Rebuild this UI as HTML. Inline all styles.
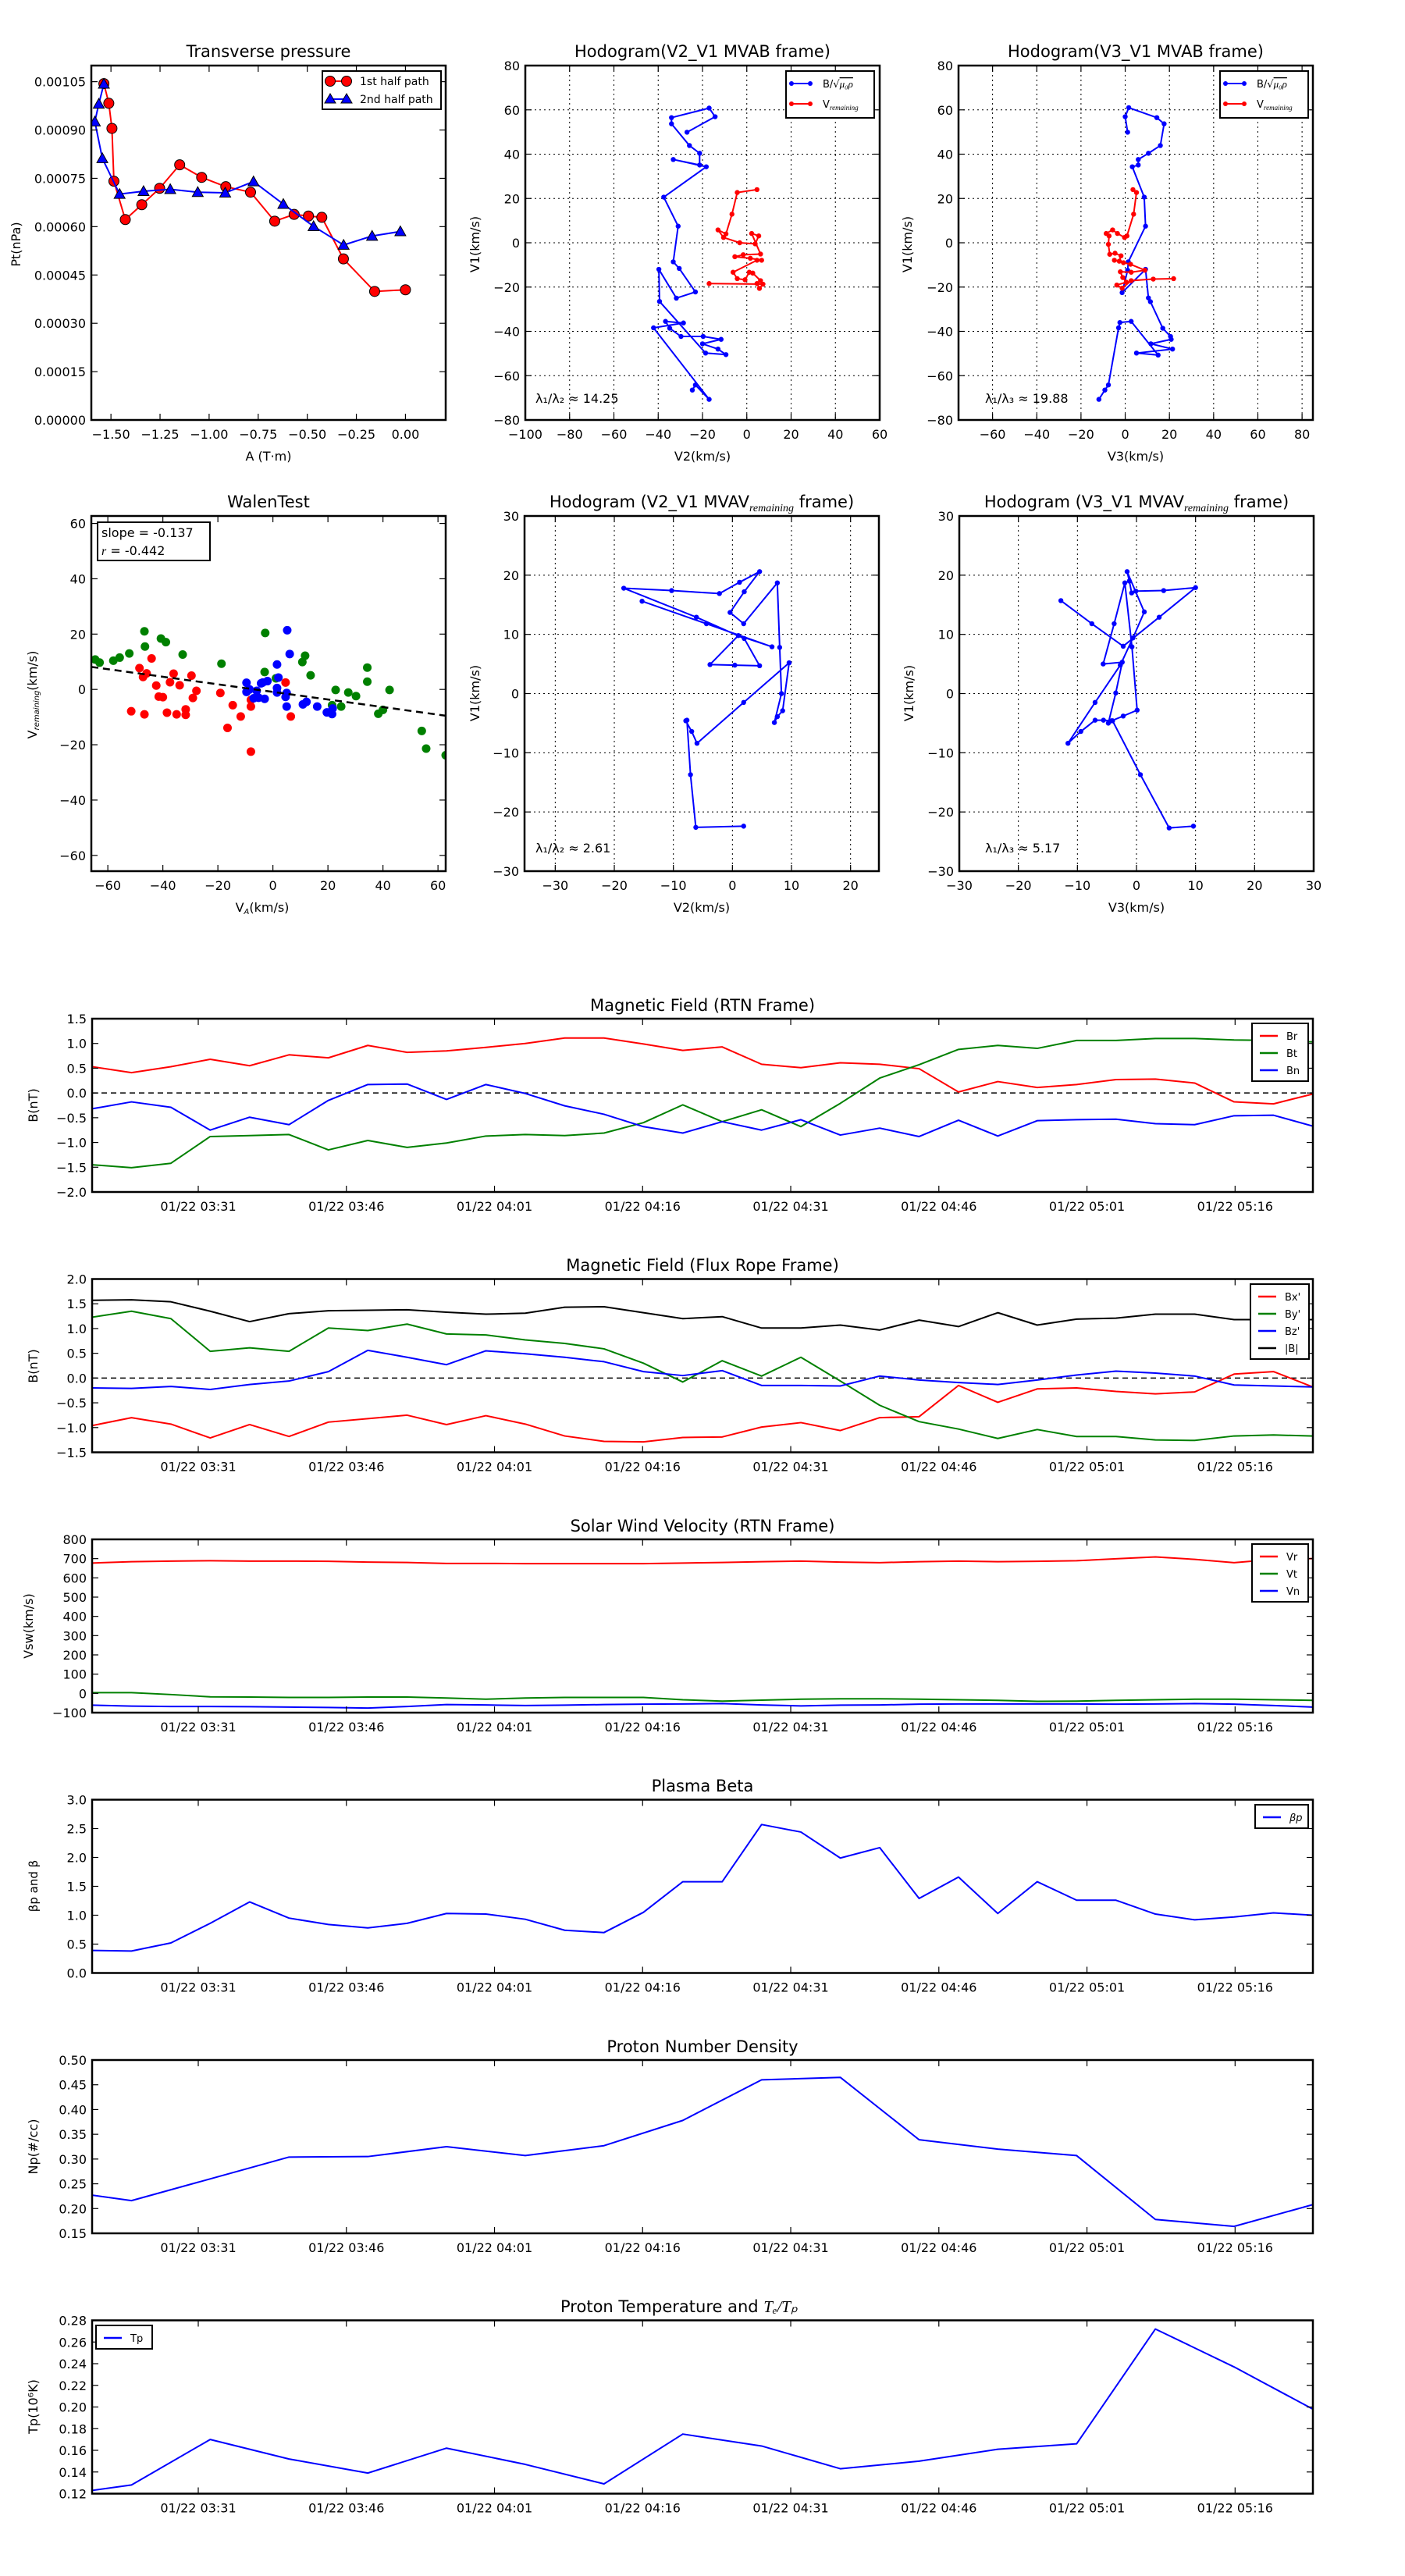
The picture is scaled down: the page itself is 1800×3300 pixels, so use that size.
<!DOCTYPE html>
<html><head><meta charset="utf-8"><title>Flux rope analysis</title>
<style>
html,body{margin:0;padding:0;background:#fff;}
svg{display:block;font-family:"DejaVu Sans","Liberation Sans",sans-serif;}
</style></head>
<body>
<svg id="fig" xmlns="http://www.w3.org/2000/svg" width="1800" height="3300" viewBox="0 0 1800 3300"></svg>
<script>
// ---------- DATA ----------
const ptRedA=[-1.536,-1.511,-1.495,-1.485,-1.427,-1.343,-1.252,-1.150,-1.038,-0.915,-0.789,-0.666,-0.567,-0.494,-0.426,-0.316,-0.157,0.0];
const ptRedP=[0.001044,0.000983,0.000905,0.000741,0.000622,0.000668,0.000719,0.000792,0.000753,0.000724,0.000707,0.000617,0.000638,0.000633,0.000629,0.000500,0.000399,0.000404];
const ptBlueA=[-1.536,-1.562,-1.582,-1.544,-1.456,-1.334,-1.198,-1.058,-0.918,-0.774,-0.622,-0.468,-0.315,-0.170,-0.026];
const ptBlueP=[0.001043,0.000981,0.000926,0.000812,0.000701,0.000710,0.000716,0.000707,0.000705,0.000740,0.000670,0.000601,0.000543,0.000571,0.000585];
const h1BlueX=[-24.6,-23.2,-17,-42.1,-28.6,-36.7,-34.8,-29.7,-19.7,-11.6,-20,-13,-9.4,-18.6,-39.4,-39.7,-31.8,-23.2,-30.5,-33.2,-31,-37.5,-18.3,-33.2,-21.3,-21.3,-25.9,-34,-34,-17,-14.3,-27];
const h1BlueY=[-66.5,-64.2,-70.7,-38.4,-36.2,-35.5,-38.6,-42.3,-42.3,-43.6,-45.6,-48,-50.5,-49.8,-26.5,-12,-25,-22.2,-11.6,-8.6,7.5,20.6,34.3,37.6,35.1,40.4,43.9,53.7,56.5,60.8,56.9,49.9];
const h1RedX=[4.6,-4.3,-6.7,-9.4,-13,-10.5,-3.2,3.8,5.4,2.2,6.2,-1.6,-5.4,1.6,6.7,4.6,-6.2,-4.3,-0.8,1.1,2.7,6.2,4.6,5.7,7.3,-17];
const h1RedY=[24,22.7,12.9,4,5.8,2.4,0,-0.5,3.1,4.2,-5.1,-5.4,-6.3,-7,-7.9,-7.9,-13.3,-16.2,-16.7,-13.3,-13.7,-17.1,-18.4,-20.6,-18.7,-18.4];
const h2BlueX=[1.1,0,1.6,14.3,17.6,15.9,10.5,5.9,5.9,3.2,8.6,9.2,1.4,1.1,-1.4,9.2,10.5,11.4,17,20.5,20.8,11.6,21.4,5.1,14.9,2.7,-2.4,-3,-7.6,-9.2,-11.9];
const h2BlueY=[49.9,56.9,61,56.5,53.7,43.9,40.4,37.6,35.1,34.3,20.6,7.5,-8.6,-12.4,-22.5,-12,-24.9,-26.6,-38.6,-42.3,-43.6,-45.6,-48,-49.8,-50.7,-35.5,-36,-38.4,-64.2,-66.5,-70.7];
const h2RedX=[3.5,5.1,3.8,0.8,-0.3,-3.5,-5.7,-8.6,-7.3,-7.6,-7,-4.6,-1.9,-2.7,-4.9,-0.8,2.4,8.9,2.7,-2.2,-1.1,0.5,-3.8,-1.4,2.7,12.7,21.9];
const h2RedY=[24,22.7,12.9,3.1,2.4,4.2,5.8,4.2,3.1,-0.7,-5.2,-4.7,-5.9,-8.3,-7.9,-9,-9.7,-12.4,-13.3,-13.1,-15.7,-17.8,-19.1,-20.5,-17.1,-16.4,-16.2];
const wGreenX=[-64.6,-63,-58,-55.7,-52.2,-46.7,-46.5,-40.7,-38.9,-32.8,-18.7,-2.8,-3,1.1,10.7,11.7,13.7,22.8,27.4,30.2,21.5,24.8,34.3,34.3,42.4,38.3,40,54.1,55.7,62.8];
const wGreenY=[10.8,9.7,10.4,11.5,13,21,15.5,18.4,17.1,12.6,9.3,20.4,6.3,4,9.9,12.2,5.1,-0.2,-1.1,-2.4,-5.7,-6.2,7.9,2.8,-0.2,-8.8,-7.4,-15,-21.4,-23.8];
const wRedX=[-48.5,-44.1,-47.2,-45.9,-42.4,-41.5,-40,-37.4,-36.1,-33.9,-38.5,-35,-31.7,-31.7,-29.6,-29.1,-27.8,-51.5,-46.7,-19.1,-14.6,-16.5,-11.7,-8,-8,-8,4.6,6.5];
const wRedY=[7.7,11.2,4.5,5.8,1.4,-2.6,-2.8,2.6,5.7,1.5,-8.4,-9,-7.2,-9.2,5,-3.1,-0.5,-7.9,-9,-1.3,-5.7,-13.9,-9.8,-6.2,-3.8,-22.5,2.5,-9.8];
const wBlueX=[5.2,6.1,1.5,2,-2,-3.7,-9.6,-8.5,-5.9,-9.6,-5.2,-3,1.5,1.5,5,4.6,5,10.9,12.2,16.1,19.6,21.5,21.7,-7,-4.3];
const wBlueY=[21.4,12.8,9,4.3,3,2.5,2.4,0,-0.5,-0.9,-3,-3.4,0.5,-1.1,-1.3,-2.7,-6.2,-5.4,-4.5,-6.2,-8.3,-8.9,-6.9,-3.2,2.2];
const walenSlope=-0.137;
const walenIntercept=-0.9;
const h3X=[1.9,-6.2,-7.1,-7.7,-7.9,-6.9,-6.0,1.9,9.6,8.5,7.6,7.1,8.3,8.0,7.6,1.9,-0.4,2.0,4.6,1.2,-2.2,-10.3,-18.4,-6.1,2.0,4.6,0.4,-3.8,1.0,6.7,-4.4,-15.3];
const h3Y=[-22.4,-22.6,-13.7,-4.5,-4.6,-6.4,-8.4,-1.5,5.2,-2.9,-3.9,-4.9,0,7.8,18.7,11.8,13.7,17.2,20.6,18.8,16.9,17.4,17.8,12.9,9.3,4.7,4.8,4.9,9.8,7.9,11.8,15.6];
const h4X=[9.64,5.53,0.66,-4.05,-4.77,-3.51,-2.41,-5.64,-3.78,-1.97,-0.77,0.11,-2.25,-4.22,-5.59,-7.01,-9.42,-11.6,-7.01,-2.74,-0.6,1.32,-1.59,-1.21,-0.82,-0.11,4.6,10.0,3.84,-2.25,-7.56,-12.8];
const h4Y=[-22.4,-22.7,-13.7,-4.6,-5.0,0.1,5.3,5.0,11.8,18.7,7.9,-2.8,-3.8,-4.6,-4.5,-4.5,-6.4,-8.4,-1.5,4.8,9.4,13.8,20.6,19.0,17.0,17.3,17.4,17.9,12.9,8.0,11.8,15.7];
const tMin=[0,3.99,7.98,11.96,15.95,19.94,23.93,27.92,31.9,35.89,39.88,43.87,47.86,51.84,55.83,59.82,63.81,67.8,71.78,75.77,79.76,83.75,87.74,91.72,95.71,99.7,103.69,107.68,111.66,115.65,119.64,123.63];
const timeTickMin=[10.75,25.75,40.75,55.75,70.75,85.75,100.75,115.75];
const timeTickLabels=["01/22 03:31","01/22 03:46","01/22 04:01","01/22 04:16","01/22 04:31","01/22 04:46","01/22 05:01","01/22 05:16"];
const Br=[0.53,0.41,0.53,0.68,0.55,0.77,0.71,0.96,0.82,0.85,0.92,1.0,1.11,1.11,0.99,0.86,0.93,0.58,0.51,0.61,0.58,0.49,0.02,0.23,0.11,0.17,0.27,0.28,0.2,-0.18,-0.22,-0.02];
const Bt=[-1.45,-1.51,-1.42,-0.88,-0.86,-0.84,-1.15,-0.96,-1.10,-1.01,-0.87,-0.84,-0.86,-0.81,-0.6,-0.24,-0.58,-0.34,-0.68,-0.21,0.30,0.57,0.88,0.96,0.90,1.06,1.06,1.10,1.10,1.07,1.06,1.03];
const Bn=[-0.32,-0.18,-0.29,-0.75,-0.49,-0.64,-0.15,0.17,0.18,-0.13,0.17,-0.01,-0.26,-0.43,-0.68,-0.81,-0.58,-0.75,-0.54,-0.85,-0.71,-0.88,-0.55,-0.87,-0.56,-0.54,-0.53,-0.62,-0.64,-0.46,-0.45,-0.67];
const Bxp=[-0.96,-0.80,-0.93,-1.21,-0.94,-1.18,-0.89,-0.82,-0.75,-0.94,-0.76,-0.93,-1.17,-1.28,-1.29,-1.2,-1.19,-0.99,-0.90,-1.06,-0.80,-0.78,-0.15,-0.49,-0.22,-0.2,-0.27,-0.32,-0.28,0.08,0.13,-0.18];
const Byp=[1.23,1.35,1.20,0.54,0.61,0.54,1.01,0.96,1.09,0.89,0.87,0.77,0.70,0.59,0.30,-0.08,0.35,0.04,0.42,-0.06,-0.55,-0.88,-1.03,-1.22,-1.04,-1.18,-1.18,-1.25,-1.26,-1.17,-1.15,-1.17];
const Bzp=[-0.2,-0.21,-0.17,-0.23,-0.13,-0.06,0.13,0.56,0.42,0.27,0.55,0.49,0.42,0.33,0.13,0.05,0.15,-0.15,-0.15,-0.16,0.04,-0.04,-0.09,-0.13,-0.04,0.06,0.14,0.1,0.04,-0.14,-0.16,-0.18];
const Bmag=[1.57,1.58,1.54,1.35,1.14,1.30,1.36,1.37,1.38,1.33,1.29,1.31,1.43,1.44,1.32,1.20,1.24,1.01,1.01,1.07,0.97,1.17,1.04,1.32,1.07,1.19,1.21,1.29,1.29,1.18,1.18,1.18];
const Vr=[677,684,687,689,687,687,686,682,680,675,675,674,674,674,674,677,680,684,687,682,679,684,687,684,686,689,699,709,696,679,696,700];
const Vt=[4,4,-6,-18,-19,-21,-21,-19,-19,-24,-30,-24,-21,-21,-21,-33,-40,-35,-30,-28,-28,-30,-33,-36,-41,-40,-36,-33,-30,-30,-33,-36];
const Vn=[-61,-66,-68,-68,-69,-71,-73,-76,-68,-58,-60,-63,-61,-58,-56,-55,-53,-60,-65,-61,-60,-56,-55,-55,-55,-55,-56,-55,-53,-56,-63,-71];
const betaP=[0.39,0.38,0.52,0.86,1.23,0.95,0.84,0.78,0.86,1.03,1.02,0.93,0.74,0.70,1.05,1.58,1.58,2.57,2.44,1.99,2.17,1.29,1.66,1.03,1.58,1.26,1.26,1.02,0.92,0.97,1.04,1.0];
const npIdx=[0,1,5,7,9,11,13,15,17,19,21,23,25,27,29,31];
const Np=[0.227,0.216,0.304,0.305,0.325,0.307,0.327,0.378,0.460,0.465,0.339,0.320,0.307,0.178,0.164,0.208];
const tpIdx=[0,1,3,5,7,9,11,13,15,17,19,21,23,25,27,29,31];
const Tp=[0.123,0.128,0.170,0.152,0.139,0.162,0.147,0.129,0.175,0.164,0.143,0.150,0.161,0.166,0.272,0.237,0.198];

// ---------- HELPERS ----------
const NS="http://www.w3.org/2000/svg";
const svg=document.getElementById('fig');
let clipN=0;
function mk(tag,attrs,parent){const e=document.createElementNS(NS,tag);for(const k in attrs)e.setAttribute(k,attrs[k]);(parent||svg).appendChild(e);return e;}
function txt(s,x,y,size,anchor,parent,nm,extra){
  const t=mk('text',Object.assign({x:x,y:y,'font-size':size,'text-anchor':anchor||'middle',fill:'#000'},extra||{}),parent);
  t.textContent=s;
  
  
  return t;
}
function fmtNum(v,d){const s=Math.abs(v).toFixed(d);return (v<-1e-12?'\u2212':'')+s;}
function axes(o){
  const g=mk('g',{});
  
  
  const sx=v=>o.L+(v-o.xd[0])/(o.xd[1]-o.xd[0])*o.W;
  const sy=v=>o.T+o.H-(v-o.yd[0])/(o.yd[1]-o.yd[0])*o.H;
  const id='clip'+(clipN++);
  const cp=mk('clipPath',{id:id},g);
  mk('rect',{x:o.L,y:o.T,width:o.W,height:o.H},cp);
  if(o.grid){
    const gg=mk('g',{stroke:'#000','stroke-width':1,'stroke-dasharray':'2,4'},g);
    
    
    o.xt.forEach(v=>mk('line',{x1:sx(v),x2:sx(v),y1:o.T,y2:o.T+o.H},gg));
    o.yt.forEach(v=>mk('line',{x1:o.L,x2:o.L+o.W,y1:sy(v),y2:sy(v)},gg));
  }
  const content=mk('g',{'clip-path':'url(#'+id+')'},g);
  
  
  const fr=mk('rect',{x:o.L,y:o.T,width:o.W,height:o.H,fill:'none',stroke:'#000','stroke-width':2.5},g);
  
  
  const tg=mk('g',{stroke:'#000','stroke-width':1.2},g);
  
  
  const xlab=mk('g',{},g);
  
  
  const ylab=mk('g',{},g);
  
  
  o.xt.forEach((v,i)=>{const x=sx(v);mk('line',{x1:x,x2:x,y1:o.T+o.H,y2:o.T+o.H-8},tg);mk('line',{x1:x,x2:x,y1:o.T,y2:o.T+8},tg);
    txt(o.xl?o.xl[i]:o.xf(v),x,o.T+o.H+24,o.fs||16,'middle',xlab,'x-tick-label');});
  o.yt.forEach((v,i)=>{const y=sy(v);mk('line',{x1:o.L,x2:o.L+8,y1:y,y2:y},tg);mk('line',{x1:o.L+o.W,x2:o.L+o.W-8,y1:y,y2:y},tg);
    txt(o.yf(v),o.L-7,y+6,o.fs||16,'end',ylab,'y-tick-label');});
  return {sx,sy,g,content};
}
function range(a,b,s){const r=[];for(let v=a;v<=b+s*1e-6;v+=s)r.push(+v.toFixed(8));return r;}
function pathLine(ax,xs,ys,color,w,nm){
  const p=mk('polyline',{points:xs.map((x,i)=>ax.sx(x)+','+ax.sy(ys[i])).join(' '),fill:'none',stroke:color,'stroke-width':w,'stroke-linejoin':'round'},ax.content);
  
  
  return p;
}
function dots(ax,xs,ys,color,r,nm,stroke){
  const g=mk('g',{fill:color},ax.content);
  
  
  xs.forEach((x,i)=>{const c=mk('circle',{cx:ax.sx(x),cy:ax.sy(ys[i]),r:r},g);if(stroke){c.setAttribute('stroke','#000');c.setAttribute('stroke-width',1);}
    
    });
}
function tris(ax,xs,ys,color,nm){
  const g=mk('g',{fill:color,stroke:'#000','stroke-width':1},ax.content);
  
  
  xs.forEach((x,i)=>{const cx=ax.sx(x),cy=ax.sy(ys[i]);const t=mk('polygon',{points:(cx)+','+(cy-7)+' '+(cx-7)+','+(cy+5.5)+' '+(cx+7)+','+(cy+5.5)},g);
    
    });
}
function ylabel(s,x,y,size,nm){const t=txt(s,x,y,size,'middle',svg,nm,{transform:'rotate(-90 '+x+' '+y+')'});return t;}
function legendBox(x,y,w,h,nm){const r=mk('rect',{x:x,y:y,width:w,height:h,fill:'#fff',stroke:'#000','stroke-width':2});return r;}

// ---------- TRANSVERSE PRESSURE ----------
(function(){
  const ax=axes({name:'transverse-pressure-chart',L:117,T:84,W:454,H:454,xd:[-1.6,0.205],yd:[0,0.0011],
    xt:range(-1.5,0,0.25),yt:range(0,0.00105,0.00015),xf:v=>fmtNum(v,2),yf:v=>v.toFixed(5),fs:16});
  pathLine(ax,ptRedA,ptRedP,'#f00',2,'first-half-path-line');
  dots(ax,ptRedA,ptRedP,'#f00',6.5,'first-half-path-markers',true);
  pathLine(ax,ptBlueA,ptBlueP,'#00f',2,'second-half-path-line');
  tris(ax,ptBlueA,ptBlueP,'#00f','second-half-path-markers');
  txt('Transverse pressure',344,73,21,'middle',svg,'chart-title');
  txt('A (T\u00b7m)',344,590,16,'middle',svg,'x-axis-title');
  ylabel('Pt(nPa)',26,313,16,'y-axis-title');
  legendBox(413,91,152,49,'legend');
  mk('line',{x1:423,x2:444,y1:104,y2:104,stroke:'#f00','stroke-width':2});
  mk('circle',{cx:423,cy:104,r:6.5,fill:'#f00',stroke:'#000'});mk('circle',{cx:444,cy:104,r:6.5,fill:'#f00',stroke:'#000'});
  txt('1st half path',461,109,14,'start',svg,'legend-entry');
  mk('line',{x1:423,x2:444,y1:127,y2:127,stroke:'#00f','stroke-width':2});
  mk('polygon',{points:'423,120 416,132 430,132',fill:'#00f',stroke:'#000'});mk('polygon',{points:'444,120 437,132 451,132',fill:'#00f',stroke:'#000'});
  txt('2nd half path',461,132,14,'start',svg,'legend-entry');
})();

function hodoLegend(x,nm){
  legendBox(x,91,113,60,nm);
  mk('line',{x1:x+7,x2:x+31,y1:107,y2:107,stroke:'#00f','stroke-width':2});
  mk('circle',{cx:x+7,cy:107,r:3,fill:'#00f'});mk('circle',{cx:x+31,cy:107,r:3,fill:'#00f'});
  const t1=txt('B/\u221a',x+47,112,13,'start',svg,'legend-entry');
  const ts=mk('tspan',{'font-style':'italic','font-family':'Liberation Serif,serif','text-decoration':'overline'},t1);ts.textContent='\u03bc\u2080\u03c1';
  mk('line',{x1:x+7,x2:x+31,y1:133,y2:133,stroke:'#f00','stroke-width':2});
  mk('circle',{cx:x+7,cy:133,r:3,fill:'#f00'});mk('circle',{cx:x+31,cy:133,r:3,fill:'#f00'});
  const t2=txt('V',x+47,138,13,'start',svg,'legend-entry');
  const s2=mk('tspan',{'font-size':9,'font-style':'italic','font-family':'Liberation Serif,serif',dy:3},t2);s2.textContent='remaining';
}
// ---------- HODOGRAM V2_V1 MVAB ----------
(function(){
  const ax=axes({name:'hodogram-v2-v1-mvab',L:673,T:84,W:454,H:454,xd:[-100,60],yd:[-80,80],grid:true,
    xt:range(-100,60,20),yt:range(-80,80,20),xf:v=>fmtNum(v,0),yf:v=>fmtNum(v,0)});
  pathLine(ax,h1BlueX,h1BlueY,'#00f',2,'b-alfven-hodogram-line');
  dots(ax,h1BlueX,h1BlueY,'#00f',3.2,'b-alfven-hodogram-points');
  pathLine(ax,h1RedX,h1RedY,'#f00',2,'v-remaining-hodogram-line');
  dots(ax,h1RedX,h1RedY,'#f00',3.2,'v-remaining-hodogram-points');
  txt('Hodogram(V2_V1 MVAB frame)',900,73,21,'middle',svg,'chart-title');
  txt('V2(km/s)',900,590,16,'middle',svg,'x-axis-title');
  ylabel('V1(km/s)',614,313,16,'y-axis-title');
  hodoLegend(1007,'legend');
  txt('\u03bb\u2081/\u03bb\u2082 \u2248 14.25',686,516,16,'start',svg,'eigenvalue-ratio-label');
})();
// ---------- HODOGRAM V3_V1 MVAB ----------
(function(){
  const ax=axes({name:'hodogram-v3-v1-mvab',L:1228,T:84,W:454,H:454,xd:[-75.4,84.9],yd:[-80,80],grid:true,
    xt:range(-60,80,20),yt:range(-80,80,20),xf:v=>fmtNum(v,0),yf:v=>fmtNum(v,0)});
  pathLine(ax,h2BlueX,h2BlueY,'#00f',2,'b-alfven-hodogram-line');
  dots(ax,h2BlueX,h2BlueY,'#00f',3.2,'b-alfven-hodogram-points');
  pathLine(ax,h2RedX,h2RedY,'#f00',2,'v-remaining-hodogram-line');
  dots(ax,h2RedX,h2RedY,'#f00',3.2,'v-remaining-hodogram-points');
  txt('Hodogram(V3_V1 MVAB frame)',1455,73,21,'middle',svg,'chart-title');
  txt('V3(km/s)',1455,590,16,'middle',svg,'x-axis-title');
  ylabel('V1(km/s)',1168,313,16,'y-axis-title');
  hodoLegend(1563,'legend');
  txt('\u03bb\u2081/\u03bb\u2083 \u2248 19.88',1262,516,16,'start',svg,'eigenvalue-ratio-label');
})();
// ---------- WALEN TEST ----------
(function(){
  const ax=axes({name:'walen-test-chart',L:117,T:661,W:454,H:455,xd:[-66,62.8],yd:[-65.7,62.7],
    xt:range(-60,60,20),yt:range(-60,60,20),xf:v=>fmtNum(v,0),yf:v=>fmtNum(v,0)});
  dots(ax,wGreenX,wGreenY,'#008000',5.5,'walen-green-points');
  dots(ax,wRedX,wRedY,'#f00',5.5,'walen-red-points');
  dots(ax,wBlueX,wBlueY,'#00f',5.5,'walen-blue-points');
  const fl=mk('line',{x1:ax.sx(-66),y1:ax.sy(walenSlope*-66+walenIntercept),x2:ax.sx(62.8),y2:ax.sy(walenSlope*62.8+walenIntercept),stroke:'#000','stroke-width':2.5,'stroke-dasharray':'9,6'},ax.content);
  
  
  txt('WalenTest',344,650,21,'middle',svg,'chart-title');
  const xt=txt('V',336,1168,16,'middle',svg,'x-axis-title');const xs=mk('tspan',{'font-size':10,dy:3,'font-style':'italic'},xt);xs.textContent='A';const xs2=mk('tspan',{dy:-3},xt);xs2.textContent='(km/s)';
  const yl=ylabel('V',47,890,16,'y-axis-title');const ys=mk('tspan',{'font-size':10,dy:3,'font-style':'italic'},yl);ys.textContent='remaining';const ys2=mk('tspan',{dy:-3},yl);ys2.textContent='(km/s)';
  legendBox(125,669,144,49,'legend');
  txt('slope = -0.137',130,688,16,'start',svg,'slope-label');
  const r=txt('',130,711,16,'start',svg,'correlation-label');const ri=mk('tspan',{'font-style':'italic','font-family':'Liberation Serif,serif'},r);ri.textContent='r';const rr=mk('tspan',{},r);rr.textContent=' = -0.442';
})();
function mvavTitle(prefix,x){
  const t=txt(prefix+' MVAV',x,650,21,'middle',svg,'chart-title');
  const s=mk('tspan',{'font-size':14,'font-style':'italic','font-family':'Liberation Serif,serif',dy:5},t);s.textContent='remaining';
  const e=mk('tspan',{dy:-5},t);e.textContent=' frame)';
}
// ---------- HODOGRAM V2_V1 MVAV ----------
(function(){
  const ax=axes({name:'hodogram-v2-v1-mvav',L:672,T:661,W:454,H:455,xd:[-35.2,24.8],yd:[-30,30],grid:true,
    xt:range(-30,20,10),yt:range(-30,30,10),xf:v=>fmtNum(v,0),yf:v=>fmtNum(v,0)});
  pathLine(ax,h3X,h3Y,'#00f',2,'hodogram-line');
  dots(ax,h3X,h3Y,'#00f',3.2,'hodogram-points');
  mvavTitle('Hodogram (V2_V1',899);
  txt('V2(km/s)',899,1168,16,'middle',svg,'x-axis-title');
  ylabel('V1(km/s)',614,888,16,'y-axis-title');
  txt('\u03bb\u2081/\u03bb\u2082 \u2248 2.61',686,1092,16,'start',svg,'eigenvalue-ratio-label');
})();
// ---------- HODOGRAM V3_V1 MVAV ----------
(function(){
  const ax=axes({name:'hodogram-v3-v1-mvav',L:1229,T:661,W:454,H:455,xd:[-30,30],yd:[-30,30],grid:true,
    xt:range(-30,30,10),yt:range(-30,30,10),xf:v=>fmtNum(v,0),yf:v=>fmtNum(v,0)});
  pathLine(ax,h4X,h4Y,'#00f',2,'hodogram-line');
  dots(ax,h4X,h4Y,'#00f',3.2,'hodogram-points');
  mvavTitle('Hodogram (V3_V1',1456);
  txt('V3(km/s)',1456,1168,16,'middle',svg,'x-axis-title');
  ylabel('V1(km/s)',1170,888,16,'y-axis-title');
  txt('\u03bb\u2081/\u03bb\u2083 \u2248 5.17',1262,1092,16,'start',svg,'eigenvalue-ratio-label');
})();

// ---------- TIME SERIES ----------
function tsAxes(nm,T,yd,yt,yd_fmt){
  return axes({name:nm,L:118,T:T,W:1564,H:222,xd:[0,123.63],yd:yd,xt:timeTickMin,xl:timeTickLabels,yt:yt,xf:v=>'',yf:yd_fmt,fs:16});
}
function tsLegend(x,y,w,items,nm){
  legendBox(x,y,w,items.length*22+8,nm);
  items.forEach((it,i)=>{const yy=y+16+i*22;mk('line',{x1:x+10,x2:x+33,y1:yy,y2:yy,stroke:it[1],'stroke-width':2.5});
    const t=txt(it[0],x+44,yy+5,13,'start',svg,'legend-entry');if(it[2])t.setAttribute('font-style','italic');});
}
function zeroLine(ax,nm){const z=mk('line',{x1:ax.sx(0),x2:ax.sx(123.63),y1:ax.sy(0),y2:ax.sy(0),stroke:'#000','stroke-width':1.5,'stroke-dasharray':'7,5'},ax.content);}
function pick(idx){return idx.map(i=>tMin[i]);}
(function(){
  const ax=tsAxes('magnetic-field-rtn-chart',1305,[-2,1.5],range(-2,1.5,0.5),v=>fmtNum(v,1));
  zeroLine(ax,'zero-line');
  pathLine(ax,tMin,Br,'#f00',2,'br-line');
  pathLine(ax,tMin,Bt,'#008000',2,'bt-line');
  pathLine(ax,tMin,Bn,'#00f',2,'bn-line');
  txt('Magnetic Field (RTN Frame)',900,1295,21,'middle',svg,'chart-title');
  ylabel('B(nT)',48,1416,16,'y-axis-title');
  tsLegend(1604,1311,72,[['Br','#f00'],['Bt','#008000'],['Bn','#00f']],'legend');
})();
(function(){
  const ax=tsAxes('magnetic-field-flux-rope-chart',1638.5,[-1.5,2],range(-1.5,2,0.5),v=>fmtNum(v,1));
  zeroLine(ax,'zero-line');
  pathLine(ax,tMin,Bxp,'#f00',2,'bx-prime-line');
  pathLine(ax,tMin,Byp,'#008000',2,'by-prime-line');
  pathLine(ax,tMin,Bzp,'#00f',2,'bz-prime-line');
  pathLine(ax,tMin,Bmag,'#000',2,'b-magnitude-line');
  txt('Magnetic Field (Flux Rope Frame)',900,1628,21,'middle',svg,'chart-title');
  ylabel('B(nT)',48,1750,16,'y-axis-title');
  tsLegend(1602,1645,75,[["Bx'",'#f00'],["By'",'#008000'],["Bz'",'#00f'],['|B|','#000']],'legend');
})();
(function(){
  const ax=tsAxes('solar-wind-velocity-chart',1972,[-100,800],range(-100,800,100),v=>fmtNum(v,0));
  pathLine(ax,tMin,Vr,'#f00',2,'vr-line');
  pathLine(ax,tMin,Vt,'#008000',2,'vt-line');
  pathLine(ax,tMin,Vn,'#00f',2,'vn-line');
  txt('Solar Wind Velocity (RTN Frame)',900,1962,21,'middle',svg,'chart-title');
  ylabel('Vsw(km/s)',42,2083,16,'y-axis-title');
  tsLegend(1604,1978,72,[['Vr','#f00'],['Vt','#008000'],['Vn','#00f']],'legend');
})();
(function(){
  const ax=tsAxes('plasma-beta-chart',2305.5,[0,3],range(0,3,0.5),v=>fmtNum(v,1));
  pathLine(ax,tMin,betaP,'#00f',2,'beta-p-line');
  txt('Plasma Beta',900,2295,21,'middle',svg,'chart-title');
  ylabel('\u03b2p and \u03b2',48,2416,15,'y-axis-title');
  tsLegend(1608,2312,68,[['\u03b2p','#00f',true]],'legend');
})();
(function(){
  const ax=tsAxes('proton-density-chart',2639,[0.15,0.5],range(0.15,0.5,0.05),v=>v.toFixed(2));
  pathLine(ax,pick(npIdx),Np,'#00f',2,'np-line');
  txt('Proton Number Density',900,2629,21,'middle',svg,'chart-title');
  ylabel('Np(#/cc)',48,2750,16,'y-axis-title');
})();
(function(){
  const ax=tsAxes('proton-temperature-chart',2972.5,[0.12,0.28],range(0.12,0.28,0.02),v=>v.toFixed(2));
  pathLine(ax,pick(tpIdx),Tp,'#00f',2,'tp-line');
  const t=txt('Proton Temperature and ',870,2962,21,'middle',svg,'chart-title');
  const s=mk('tspan',{'font-style':'italic','font-family':'Liberation Serif,serif'},t);s.textContent='T\u2091/T\u209a';
  ylabel('Tp(10\u2076K)',48,3083,16,'y-axis-title');
  tsLegend(123,2979,72,[['Tp','#00f']],'legend');
})();
</script>
</body></html>
